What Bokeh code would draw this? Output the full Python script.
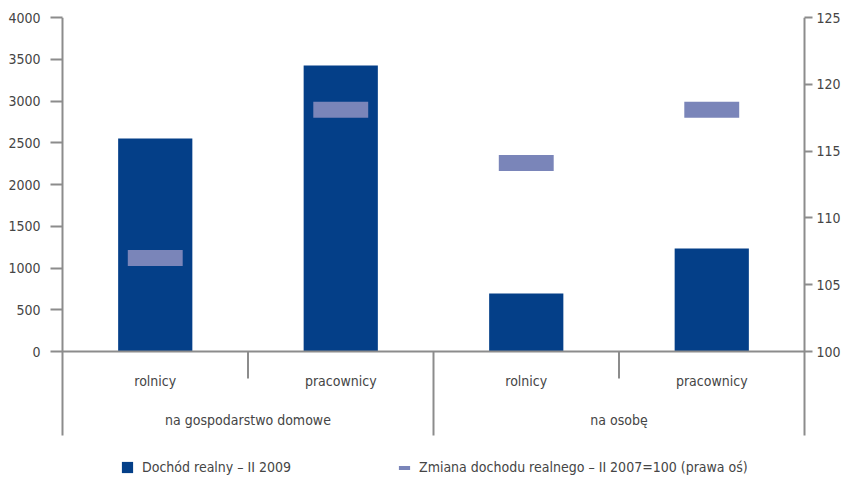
from bokeh.plotting import figure
from bokeh.models import Range1d, LinearAxis, FixedTicker, Legend, LegendItem
from bokeh.core.properties import value
from bokeh.embed import file_html
from bokeh.resources import INLINE

# Data
groups = ["na gospodarstwo domowe", "na osobę"]
categories = ["rolnicy", "pracownicy", "rolnicy", "pracownicy"]
income_2009 = [2550, 3425, 695, 1235]          # real income, II 2009 (left axis)
change_index = [107.0, 118.1, 114.1, 118.1]    # change of real income, II 2007 = 100 (right axis)
left_ticks = [0, 500, 1000, 1500, 2000, 2500, 3000, 3500, 4000]
right_ticks = [100, 105, 110, 115, 120, 125]
series_names = ["Dochód realny – II 2009",
                "Zmiana dochodu realnego – II 2007=100 (prawa oś)"]

FONT = "DejaVu Sans Condensed"
FS = "14px"
TEXT = "#454545"
AXIS = "#8c8c8c"
BAR = "#043F88"
MARK = "#7A85B9"

# Left scale: 4000 units over 334 px; the area continues below zero for labels and legend
PX = 334 / 4000
Y_MIN = -128 / PX
SEP_SHORT = -27 / PX
SEP_LONG = -84 / PX
CAT_Y = -29 / PX
GROUP_Y = -68 / PX
PAD = 4 / 185.75
ratio = (right_ticks[-1] - right_ticks[0]) / left_ticks[-1]
n = len(categories)

xs = [i + 0.5 for i in range(n)]
group_x = [1, 3]

p = figure(width=843, height=479, output_backend="svg", toolbar_location=None,
           x_range=Range1d(-PAD, n + PAD), y_range=Range1d(Y_MIN, left_ticks[-1]),
           x_axis_location=None, y_axis_location="left",
           min_border_left=58, min_border_right=34, min_border_top=17, min_border_bottom=0)
p.outline_line_color = None
p.xgrid.visible = False
p.ygrid.visible = False
p.background_fill_color = "white"

p.extra_y_ranges = {"idx": Range1d(right_ticks[0] + Y_MIN * ratio, right_ticks[-1])}


def style_axis(ax, tick_in, tick_out, standoff):
    ax.axis_line_color = None
    ax.major_tick_line_color = AXIS
    ax.major_tick_line_width = 2
    ax.major_tick_out = tick_out
    ax.major_tick_in = tick_in
    ax.minor_tick_line_color = None
    ax.major_label_text_font = FONT
    ax.major_label_text_font_size = FS
    ax.major_label_text_color = TEXT
    ax.major_label_standoff = standoff


left = p.yaxis[0]
left.ticker = FixedTicker(ticks=left_ticks)
style_axis(left, 4, 8, 10)

right = LinearAxis(y_range_name="idx", ticker=FixedTicker(ticks=right_ticks))
style_axis(right, 4, 4, 4)
p.add_layout(right, "right")

bars = p.vbar(x=xs, top=income_2009, bottom=0, width=0.4, fill_color=BAR, line_color=None)
marks = p.rect(x=xs, y=change_index, width=0.296, height=16, height_units="screen",
               y_range_name="idx", fill_color=MARK, line_color=None)

# zero line, axis lines and category separators
p.segment(x0=[0], y0=[0], x1=[n], y1=[0], line_color=AXIS, line_width=2)
p.segment(x0=[0, 1, 2, 3, 4], y0=[left_ticks[-1], 0, 0, 0, left_ticks[-1]],
          x1=[0, 1, 2, 3, 4], y1=[SEP_LONG, SEP_SHORT, SEP_LONG, SEP_SHORT, SEP_LONG],
          line_color=AXIS, line_width=2)

p.text(x=xs, y=[CAT_Y] * n, text=categories, text_align="center",
       text_baseline="middle", text_font=value(FONT), text_font_size=FS,
       text_color=TEXT)
p.text(x=group_x, y=[GROUP_Y] * len(group_x), text=groups, text_align="center",
       text_baseline="middle", text_font=value(FONT), text_font_size=FS,
       text_color=TEXT)


def make_legend(name, renderer, loc, gw, gh):
    lg = Legend(items=[LegendItem(label=name, renderers=[renderer])], location=loc,
                glyph_width=gw, glyph_height=gh, label_standoff=8, padding=0, margin=0,
                border_line_color=None, background_fill_alpha=0,
                label_text_font=FONT, label_text_font_size=FS, label_text_color=TEXT,
                label_height=18)
    p.add_layout(lg, "center")


make_legend(series_names[0], bars, (62, 3), 14, 14)
make_legend(series_names[1], marks, (339, 3), 14, 5)

open("out.html", "w").write(file_html(p, INLINE))
